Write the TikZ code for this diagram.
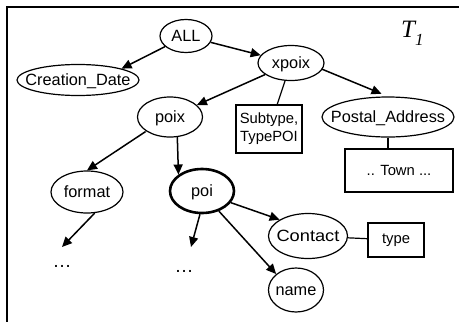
\documentclass[tikz,border=0pt]{standalone}
\usepackage{fontspec}
\setmainfont{Liberation Sans}
\newfontfamily\tserif{Liberation Serif}
\usetikzlibrary{arrows.meta,shapes.geometric}
\newcommand{\ctr}[1]{\makebox[0pt]{\smash{\raisebox{-0.36em}{#1}}}}
\begin{document}
\begin{tikzpicture}[x=1pt,y=-1pt,
  every node/.style={font=\fontsize{16.3}{18}\selectfont, inner sep=0pt},
  ell/.style={ellipse, draw, line width=1.2pt},
  bx/.style={rectangle, draw, line width=1.2pt, align=center, font=\fontsize{14.8}{18}\selectfont},
  arr/.style={line width=1.5pt, -{Triangle[length=10pt,width=9pt]}},
  ln/.style={line width=1.2pt}]
\useasboundingbox (0,0) rectangle (459,322);
\draw[line width=2pt] (7,322) -- (7,7) -- (459,7);
\node[ell, minimum width=52pt, minimum height=33pt] (ALL) at (186,36) {\ctr{ALL}};
\node[ell, minimum width=122pt, minimum height=31pt] (CD) at (78,80) {\ctr{Creation\_Date}};
\node[ell, minimum width=66pt, minimum height=35pt] (xpoix) at (291,63) {\ctr{xpoix}};
\node[ell, minimum width=65pt, minimum height=40pt] (poix) at (170,117) {\ctr{poix}};
\node[bx, minimum width=66pt, minimum height=48pt] (sub) at (269,129) {Subtype,\\TypePOI};
\node[ell, minimum width=132pt, minimum height=40pt] (PA) at (388,117) {\ctr{Postal\_Address}};
\node[bx, minimum width=108pt, minimum height=43pt] (town) at (399,170.5) {.. Town ...};
\node[ell, minimum width=72pt, minimum height=42pt] (format) at (87,192) {\ctr{format}};
\node[ell, line width=2.6pt, minimum width=64pt, minimum height=44pt] (poi) at (202,191) {\ctr{poi}};
\node[ell, minimum width=79pt, minimum height=45pt] (contact) at (308,236) {\ctr{\scalebox{1.12}[1]{Contact}}};
\node[bx, minimum width=56pt, minimum height=34pt] (type) at (396,240) {type};
\node[ell, minimum width=55pt, minimum height=44pt] (name) at (296,290) {\ctr{name}};
\coordinate (d1) at (62,247);
\coordinate (d2) at (191,247);
\node[font=\fontsize{19}{19}\selectfont] (dots1) at (62,266) {\ldots};
\node[font=\fontsize{19}{19}\selectfont] (dots2) at (184,271) {\ldots};
\node[font=\tserif\itshape\fontsize{25}{25}\selectfont, anchor=base west] (T) at (401,37) {T\raisebox{-8pt}{\fontsize{17}{17}\selectfont 1}};
\draw[arr] (ALL) -- (CD.north east);
\draw[arr] (ALL) -- (xpoix);
\draw[arr] (xpoix) -- (poix);
\draw[ln] (xpoix) -- (sub);
\draw[arr, shorten >=7pt] (xpoix.east) ++(-3,6) -- (PA.north);
\draw[ln] (PA.south) -- (town.north -| PA.south);
\draw[arr] (poix.south west) ++(-1,0) -- (format.north);
\draw[arr] (poix.-70) -- (poi.north west);
\draw[arr] (format.-70) -- (d1);
\draw[arr] (poi.-95) -- (d2);
\draw[arr] (poi.-22) -- (contact.north west);
\draw[arr] (poi.-50) -- (name.north west);
\draw[ln] (contact) -- (type);
\end{tikzpicture}
\end{document}
